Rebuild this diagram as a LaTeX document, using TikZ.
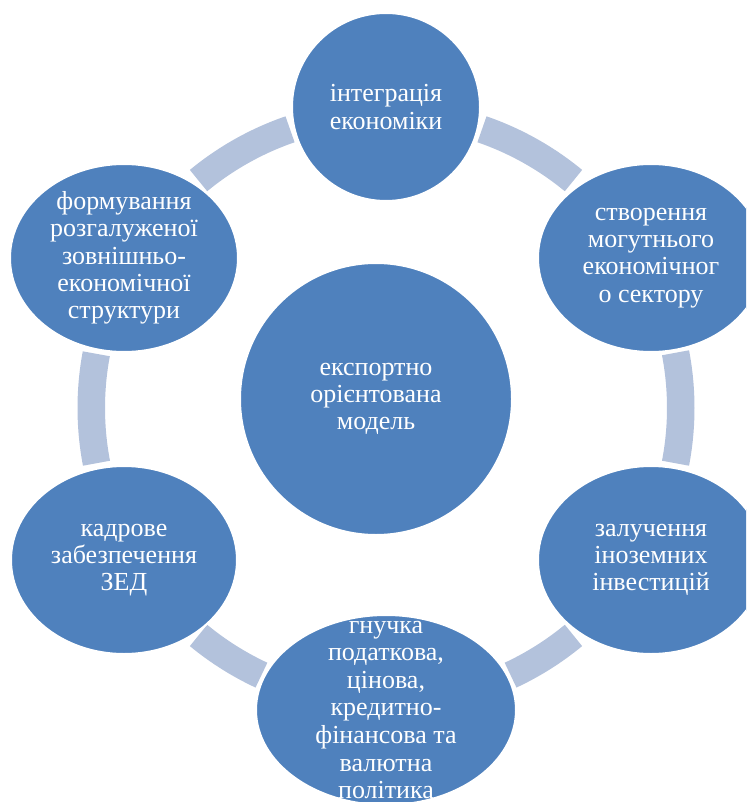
\documentclass[tikz,border=0pt]{standalone}
\usepackage{fontspec}
\setmainfont{Liberation Serif}
\usetikzlibrary{shapes.geometric}
\definecolor{bubbleblue}{RGB}{79,129,189}
\definecolor{ringblue}{RGB}{179,194,220}
\tikzset{
  bubble/.style={ellipse, fill=bubbleblue, draw=white, line width=2pt, inner sep=0pt},
  lbl/.style={align=center, text=white, inner sep=0pt, font=\fontsize{26}{27.3}\selectfont},
  band/.style={draw=ringblue, line width=27.5pt, line cap=butt}
}
\begin{document}
\begin{tikzpicture}[x=1pt,y=-1pt]
\useasboundingbox (0,0) rectangle (746,802);
\clip (0,0) rectangle (746,802);
\coordinate (ring) at (386,408);
% ring segments
\draw[band] (ring) ++(-129.5:294.75) arc[start angle=-129.5, end angle=-109, radius=294.75];
\draw[band] (ring) ++(-71:294.75) arc[start angle=-71, end angle=-50.5, radius=294.75];
\draw[band] (ring) ++(-10.8:294.75) arc[start angle=-10.8, end angle=10.8, radius=294.75];
\draw[band] (ring) ++(50.5:294.75) arc[start angle=50.5, end angle=65, radius=294.75];
\draw[band] (ring) ++(115:294.75) arc[start angle=115, end angle=129.5, radius=294.75];
\draw[band] (ring) ++(169.2:294.75) arc[start angle=169.2, end angle=190.6, radius=294.75];
% bubbles
\node[bubble, minimum width=272pt, minimum height=272pt] (c) at (376,399) {};
\node[bubble, minimum width=188pt, minimum height=188pt] (t) at (386,107) {};
\node[bubble, minimum width=226pt, minimum height=188pt] (ur) at (651,258) {};
\node[bubble, minimum width=226pt, minimum height=188pt] (lr) at (651,560) {};
\node[bubble, minimum width=260pt, minimum height=190pt] (b) at (386,710) {};
\node[bubble, minimum width=226pt, minimum height=188pt] (ll) at (124,560) {};
\node[bubble, minimum width=228pt, minimum height=188pt] (ul) at (124,258) {};
% labels
\node[lbl] (ct) at (c) {експортно\\орієнтована\\модель};
\node[lbl] (tt) at (t) {інтеграція\\економіки};
\node[lbl] (urt) at (ur) {створення\\могутнього\\економічног\\о сектору};
\node[lbl] (lrt) at (lr) {залучення\\іноземних\\інвестицій};
\node[lbl, font=\fontsize{26}{27.6}\selectfont] (bt) at (b) {гнучка\\податкова,\\цінова,\\кредитно-\\фінансова та\\валютна\\політика};
\node[lbl] (llt) at (ll) {кадрове\\забезпечення\\ЗЕД};
\node[lbl] (ult) at (ul) {формування\\розгалуженої\\зовнішньо-\\економічної\\структури};
\end{tikzpicture}
\end{document}
